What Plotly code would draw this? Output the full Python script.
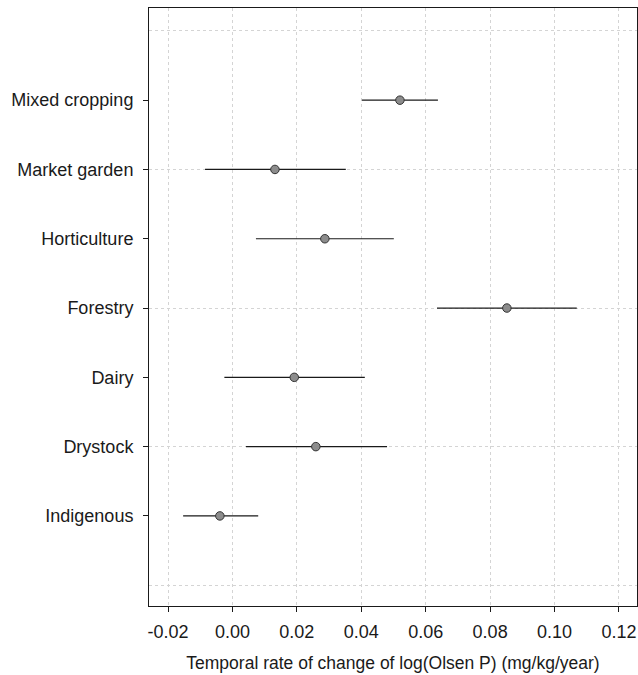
import plotly.graph_objects as go

categories = ["Indigenous", "Drystock", "Dairy", "Forestry", "Horticulture", "Market garden", "Mixed cropping"]
estimate = [-0.0039, 0.0259, 0.0192, 0.0852, 0.0287, 0.0132, 0.0520]
lower = [-0.0153, 0.0042, -0.0025, 0.0635, 0.0073, -0.0085, 0.0402]
upper = [0.0080, 0.0480, 0.0411, 0.1069, 0.0501, 0.0352, 0.0638]
positions = [1, 2, 3, 4, 5, 6, 7]
x_ticks = [-0.02, 0.00, 0.02, 0.04, 0.06, 0.08, 0.10, 0.12]

err_plus = [u - e for u, e in zip(upper, estimate)]
err_minus = [e - l for e, l in zip(estimate, lower)]

fig = go.Figure()
# invisible trace to drive secondary axis for horizontal grid lines
fig.add_trace(go.Scatter(x=[estimate[0]], y=[positions[0]], yaxis="y2", mode="markers",
                         marker=dict(opacity=0), showlegend=False, hoverinfo="skip"))
fig.add_trace(go.Scatter(
    x=estimate, y=positions, mode="markers",
    marker=dict(size=8.5, color="#8c8c8c", line=dict(color="#333333", width=1)),
    error_x=dict(type="data", symmetric=False, array=err_plus, arrayminus=err_minus,
                 color="#1a1a1a", thickness=1.2, width=0),
    showlegend=False, hoverinfo="skip",
))

yr = [-0.30, 8.33]
grid_c = "#d4d4d4"
fig.update_layout(
    width=638, height=675,
    margin=dict(l=149, r=1, t=8, b=69, autoexpand=False),
    plot_bgcolor="white", paper_bgcolor="white",
    font=dict(family="Liberation Sans, Arial, sans-serif", size=18, color="#1a1a1a"),
    xaxis=dict(
        range=[-0.0259, 0.1256], tickvals=x_ticks,
        ticktext=[f"{v:.2f}" for v in x_ticks],
        showgrid=True, gridcolor=grid_c, griddash="dot", gridwidth=1,
        zeroline=False, showline=True, linecolor="#1a1a1a", linewidth=1, mirror=True,
        ticks="outside", ticklen=5, tickcolor="#1a1a1a", ticklabelstandoff=4,
        title=dict(text="Temporal rate of change of log(Olsen P) (mg/kg/year)", standoff=16,
                   font=dict(size=17.5)),
    ),
    yaxis=dict(
        range=yr, tickvals=positions, ticktext=categories,
        showgrid=False, zeroline=False, showline=True, linecolor="#1a1a1a", linewidth=1, mirror=True,
        ticks="outside", ticklen=5, tickcolor="#1a1a1a", ticklabelstandoff=6,
    ),
    yaxis2=dict(
        range=yr, overlaying="y", side="left", dtick=2, tick0=0,
        showgrid=True, gridcolor=grid_c, griddash="dot", gridwidth=1,
        showticklabels=False, zeroline=False, showline=False, ticks="",
    ),
)
fig.write_html("out.html", config={"displayModeBar": False},
               post_script="document.body.style.margin='0';document.body.style.overflow='hidden';")
